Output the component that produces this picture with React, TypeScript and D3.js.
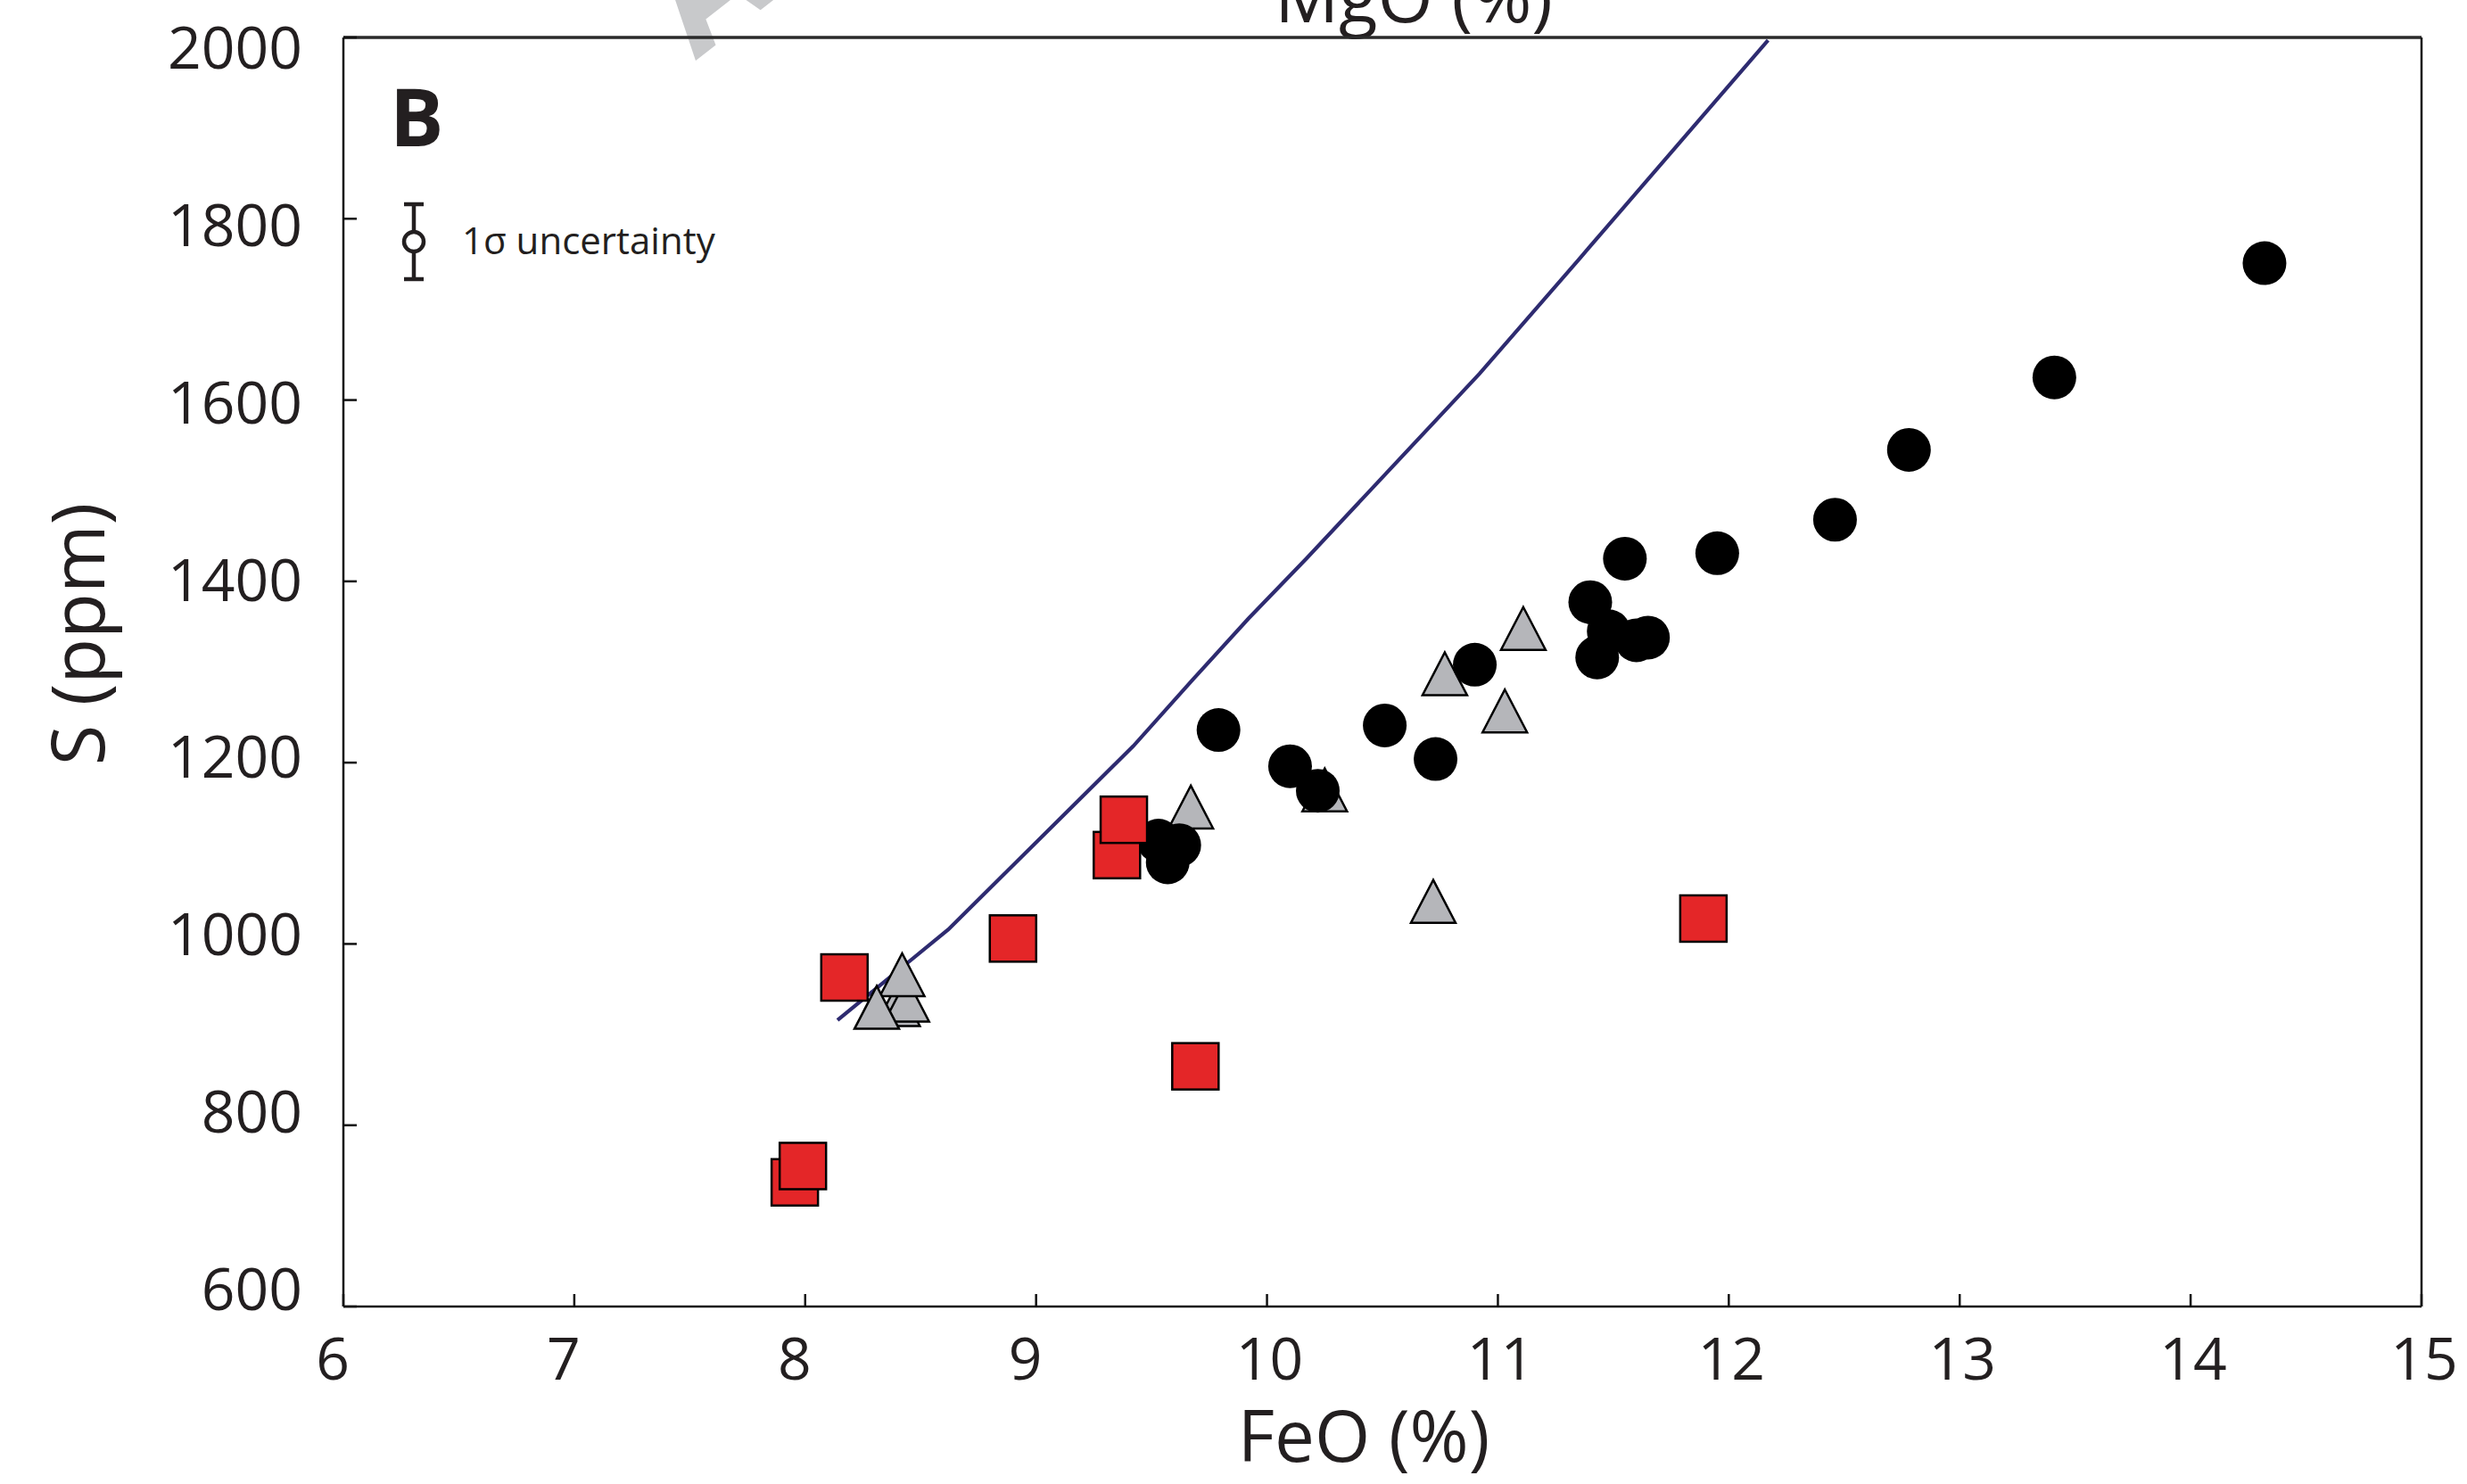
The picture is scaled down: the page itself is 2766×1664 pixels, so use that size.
import React from "react";
import * as d3 from "d3";

// ---- data (FeO wt%, S ppm) ----
const circleFeO = [14.32, 13.41, 12.78, 12.46, 11.95, 11.55, 11.40, 11.48, 11.65, 11.60, 11.43, 10.90, 10.51, 10.73, 9.79, 10.10, 10.22, 9.53, 9.62, 9.57];
const circleS = [1751, 1625, 1545, 1468, 1431, 1425, 1377, 1345, 1338, 1335, 1316, 1308, 1241, 1204, 1236, 1196, 1169, 1114, 1109, 1090];

const squareFeO = [8.17, 8.90, 9.35, 9.38, 9.69, 11.89, 7.955, 7.99];
const squareS = [963, 1006, 1098, 1137, 865, 1028, 737, 755];

const triangleFeO = [8.40, 8.44, 8.42, 8.31, 9.67, 10.25, 10.77, 11.11, 11.03, 10.72];
const triangleS = [933, 938, 966, 930, 1151, 1170, 1298, 1348, 1257, 1047];

const modelFeO = [8.14, 8.62, 9.42, 9.68, 9.92, 10.17, 10.92, 11.35, 12.17];
const modelS = [916, 1016, 1218, 1292, 1359, 1425, 1629, 1755, 1997];

const xTicks = [6, 7, 8, 9, 10, 11, 12, 13, 14, 15];
const yTicks = [600, 800, 1000, 1200, 1400, 1600, 1800, 2000];

const xTitle = "FeO (%)";
const yTitle = "S (ppm)";
const topTitle = "MgO (%)";
const panelLabel = "B";
const legendLabel = "1σ uncertainty";

const W = 2766;
const H = 1664;
const left = 385, right = 2715, top = 42, bottom = 1465;
const FONT = "'Open Sans', 'Noto Sans', sans-serif";

export default function App() {
  const x = d3.scaleLinear().domain([6, 15]).range([left, right]);
  const y = d3.scaleLinear().domain([600, 2000]).range([bottom, top]);
  // the reference's y tick labels sit on a slightly compressed ladder
  const yLabel = d3.scaleLinear().domain([600, 2000]).range([1469, 77]);

  const line = d3
    .line<number>()
    .x((_, i) => x(modelFeO[i]))
    .y((_, i) => y(modelS[i]));

  const R = 24.5;
  const SQ = 52;
  const TW = 50, TH = 48;
  const tri = (cx: number, cy: number) =>
    `M${cx},${cy - TH / 2}L${cx + TW / 2},${cy + TH / 2}L${cx - TW / 2},${cy + TH / 2}Z`;

  return (
    <svg
      width={W}
      height={H}
      style={{ position: "absolute", left: 0, top: 0, background: "#fff" }}
      fontFamily={FONT}
    >
      <defs>
        <clipPath id="plotClip">
          <rect x={left} y={top} width={right - left} height={bottom - top} />
        </clipPath>
      </defs>
      <rect x={0} y={0} width={W} height={H} fill="#fff" />

      {/* watermark fragment */}
      <text
        transform="translate(780,68) rotate(-38)"
        fontSize={175}
        fontWeight={700}
        fill="#c8c9cb"
      >
        A
      </text>

      {/* top title (cut off) */}
      <text x={1585} y={25} textAnchor="middle" fontSize={80} fill="#231f20">
        {topTitle}
      </text>

      {/* frame */}
      <line x1={left} x2={right} y1={top} y2={top} stroke="#2a2a2a" strokeWidth={3.5} />
      <line x1={right} x2={right} y1={top} y2={bottom} stroke="#111" strokeWidth={2.5} />
      <line x1={left} x2={left} y1={top} y2={bottom} stroke="#111" strokeWidth={2.5} />
      <line x1={left} x2={right} y1={bottom} y2={bottom} stroke="#111" strokeWidth={2.5} />

      {/* ticks */}
      {xTicks.map((t) => (
        <g key={"xt" + t}>
          <line x1={x(t)} x2={x(t)} y1={bottom} y2={bottom - 14} stroke="#111" strokeWidth={2.5} />
          <text
            x={x(t) + (t < 10 ? -12 : 3)}
            y={1547}
            textAnchor="middle"
            fontSize={66}
            fill="#231f20"
          >
            {t}
          </text>
        </g>
      ))}
      {yTicks.map((t) => (
        <g key={"yt" + t}>
          <line x1={left} x2={left + 15} y1={y(t)} y2={y(t)} stroke="#111" strokeWidth={2.5} />
          <text x={339} y={yLabel(t)} textAnchor="end" fontSize={66} fill="#231f20">
            {t}
          </text>
        </g>
      ))}

      {/* axis titles */}
      <text x={1529} y={1639} textAnchor="middle" fontSize={80} fill="#231f20">
        {xTitle}
      </text>
      <text
        transform="translate(117,711) rotate(-90)"
        textAnchor="middle"
        fontSize={83}
        fill="#231f20"
      >
        {yTitle}
      </text>

      {/* panel label */}
      <text x={437} y={164} fontSize={90} fontWeight={700} fill="#231f20">
        {panelLabel}
      </text>

      {/* uncertainty legend */}
      <g stroke="#231f20" strokeWidth={4.5} fill="none">
        <line x1={464} x2={464} y1={229} y2={313} />
        <line x1={453} x2={475} y1={229} y2={229} />
        <line x1={453} x2={475} y1={313} y2={313} />
        <circle cx={464} cy={271} r={11} fill="#fff" />
      </g>
      <text x={518} y={285} fontSize={42} fill="#231f20">
        {legendLabel}
      </text>

      {/* model curve */}
      <g clipPath="url(#plotClip)">
        <path
          d={line(modelFeO) || ""}
          fill="none"
          stroke="#2e2b70"
          strokeWidth={4.2}
        />
      </g>

      {/* triangles */}
      {triangleFeO.map((v, i) => (
        <path
          key={"tr" + i}
          d={tri(x(v), y(triangleS[i]))}
          fill="#b5b6ba"
          stroke="#000"
          strokeWidth={2.5}
          strokeLinejoin="miter"
        />
      ))}

      {/* circles */}
      {circleFeO.map((v, i) => (
        <circle key={"c" + i} cx={x(v)} cy={y(circleS[i])} r={R} fill="#000" />
      ))}

      {/* squares */}
      {squareFeO.map((v, i) => (
        <rect
          key={"s" + i}
          x={x(v) - SQ / 2}
          y={y(squareS[i]) - SQ / 2}
          width={SQ}
          height={SQ}
          fill="#e42628"
          stroke="#000"
          strokeWidth={2.5}
        />
      ))}
    </svg>
  );
}
